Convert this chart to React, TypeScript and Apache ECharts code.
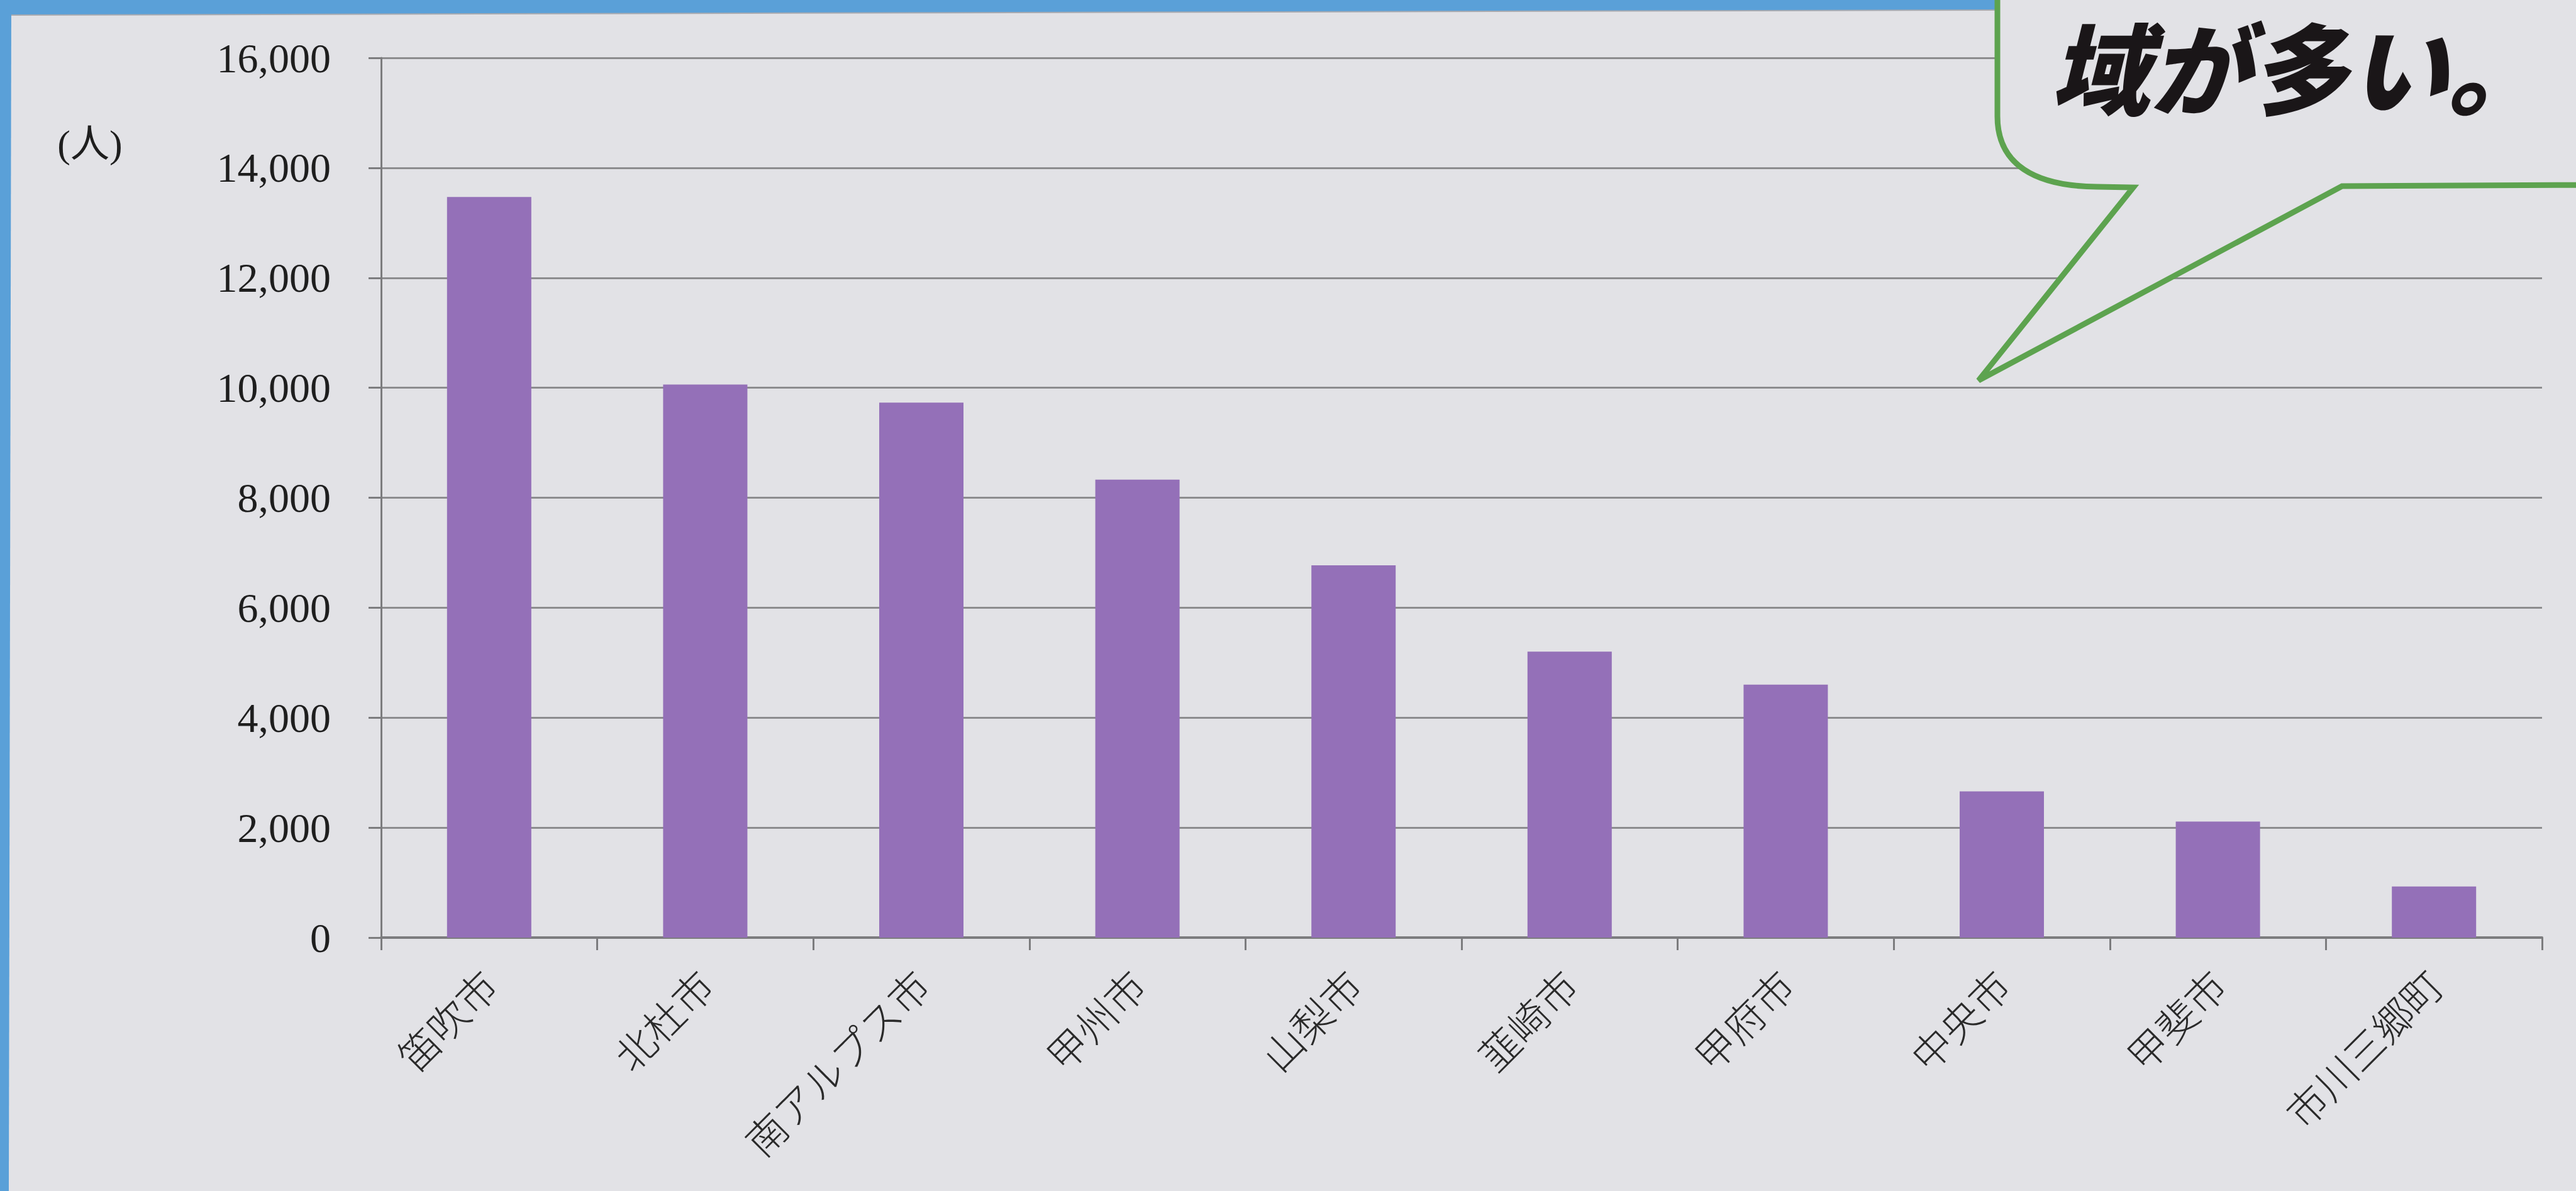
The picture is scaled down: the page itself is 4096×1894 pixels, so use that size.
import React, { useEffect, useRef } from "react";
import * as echarts from "echarts";

const categories = ["笛吹市", "北杜市", "南アルプス市", "甲州市", "山梨市", "韮崎市", "甲府市", "中央市", "甲斐市", "市川三郷町"];
const values = [13470, 10060, 9730, 8330, 6770, 5200, 4600, 2660, 2110, 930];
const yTicks = { min: 0, max: 16000, interval: 2000 };
const unitLabel = "(人)";
const bubbleText = "域が多い。";

const BG = "#e2e2e6";
const BAR = "#9470b8";
const GRID = "#8c8c8e";
const AXIS = "#7c7c7e";
const BLUE = "#5aa0d8";
const GREEN = "#5da34f";

const BUBBLE_D =
  "M3176,-30 L3176,185 C3176,262 3236,296 3334,297 L3392,298 L3146,605 L3724,296 L4130,294 L4130,-30 Z";

let registered = false;

export default function App() {
  const ref = useRef<HTMLDivElement>(null);
  useEffect(() => {
    document.body.style.margin = "0";
    if (!registered) {
      echarts.graphic.registerShape("bubble", echarts.graphic.extendPath(BUBBLE_D, {}));
      registered = true;
    }
    const chart = echarts.init(ref.current!, null, { renderer: "svg" });
    chart.setOption({
      animation: false,
      backgroundColor: BG,
      grid: { left: 606, right: 54, top: 92, bottom: 403, containLabel: false },
      xAxis: {
        type: "category",
        data: categories,
        boundaryGap: true,
        axisLine: { show: true, lineStyle: { color: AXIS, width: 4 } },
        axisTick: { show: true, length: 20, lineStyle: { color: AXIS, width: 3 } },
        axisLabel: {
          rotate: 45,
          margin: 62,
          fontSize: 64,
          color: "#2a2a2a",
          fontFamily: "'Noto Sans CJK JP', sans-serif",
          fontWeight: 300,
          interval: 0,
        },
        splitLine: { show: false },
      },
      yAxis: {
        type: "value",
        min: yTicks.min,
        max: yTicks.max,
        interval: yTicks.interval,
        axisLine: { show: true, lineStyle: { color: AXIS, width: 3 } },
        axisTick: { show: true, length: 20, lineStyle: { color: AXIS, width: 3 } },
        axisLabel: {
          margin: 80,
          fontSize: 66,
          color: "#1e1e1e",
          fontFamily: "'Liberation Serif', serif",
          formatter: (v: number) => v.toLocaleString("en-US"),
        },
        splitLine: { show: true, lineStyle: { color: GRID, width: 3 } },
      },
      series: [
        {
          type: "bar",
          data: values,
          barWidth: "39%",
          itemStyle: { color: BAR },
          z: 3,
        },
      ],
      graphic: [
        {
          type: "polygon",
          z: 100,
          shape: { points: [[0, 0], [3180, 0], [3180, 16], [0, 24]] },
          style: { fill: BLUE },
        },
        {
          type: "polyline",
          z: 100,
          shape: { points: [[16, 24], [3180, 16]] },
          style: { stroke: "#a8aab0", lineWidth: 2, fill: "none" },
        },
        {
          type: "polygon",
          z: 100,
          shape: { points: [[0, 0], [18, 0], [14, 1894], [0, 1894]] },
          style: { fill: BLUE },
        },
        {
          type: "bubble",
          z: 101,
          x: 0,
          y: 0,
          scaleX: 1,
          scaleY: 1,
          style: { fill: BG, stroke: GREEN, lineWidth: 9, lineJoin: "miter" },
        },
        {
          type: "text",
          z: 102,
          x: 3260,
          y: 102,
          style: {
            text: bubbleText,
            fontSize: 158,
            fontWeight: 900,
            fontStyle: "italic",
            fontFamily: "'Noto Sans CJK JP', sans-serif",
            fill: "#1a1618",
            textAlign: "left",
            verticalAlign: "middle",
          },
        },
        {
          type: "text",
          z: 102,
          x: 143,
          y: 229,
          style: {
            text: unitLabel,
            fontSize: 62,
            fontFamily: "'Liberation Serif', 'Noto Sans CJK JP', serif",
            fill: "#1e1e1e",
            textAlign: "center",
            verticalAlign: "middle",
          },
        },
      ],
    });
    return () => chart.dispose();
  }, []);
  return (
    <div
      ref={ref}
      style={{ position: "fixed", left: 0, top: 0, width: "4096px", height: "1894px", background: BG }}
    />
  );
}
